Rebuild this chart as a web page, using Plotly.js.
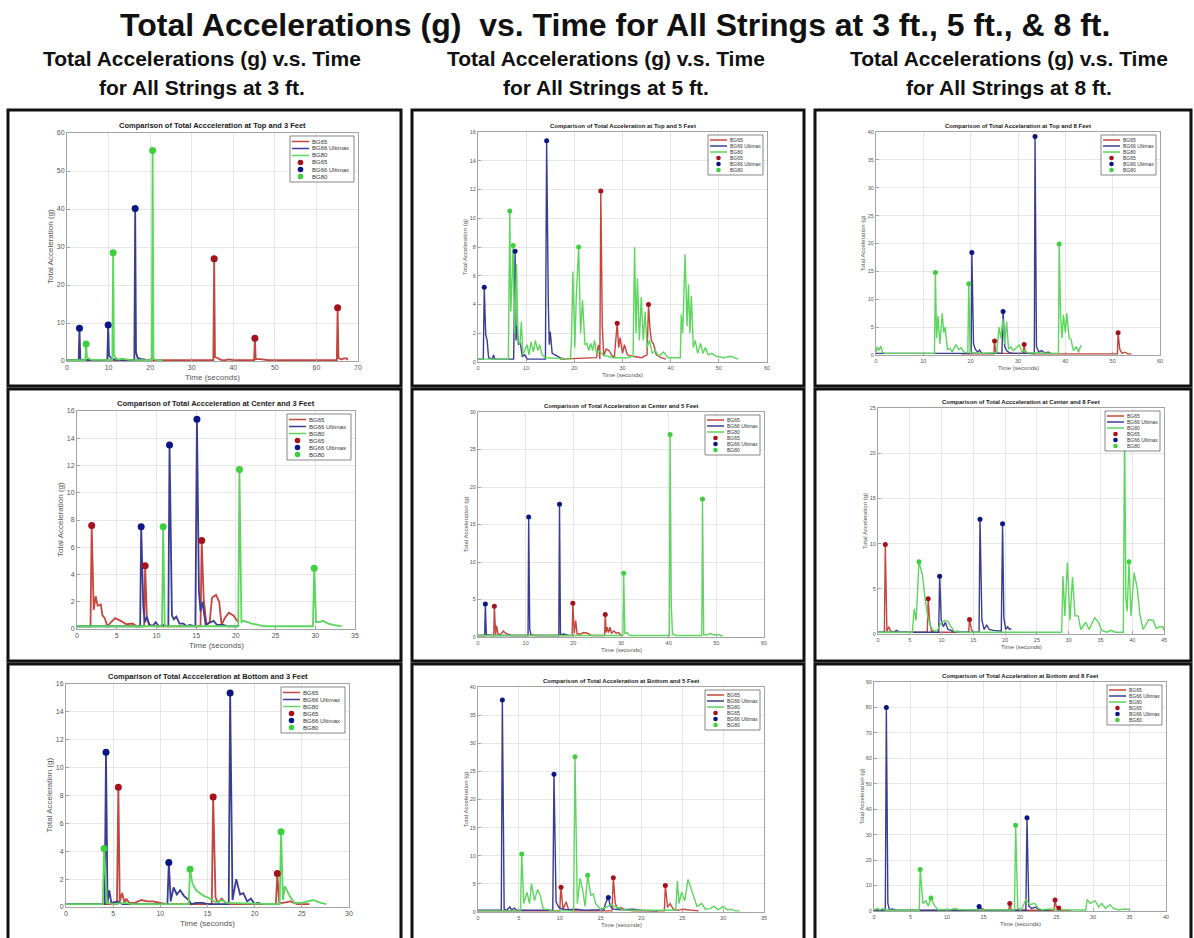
<!DOCTYPE html>
<html><head><meta charset="utf-8">
<script src="https://cdn.plot.ly/plotly-3.0.1.min.js"></script>
<style>html,body{margin:0;padding:0;background:#fff;} #chart{width:1194px;height:938px;}</style>
</head><body><div id="chart"></div>
<script>
// ---------- DATA: [time (s), total acceleration (g)] ----------
const seriesNames = ['BG65', 'BG66 Ultimax', 'BG80'];

// Top, 3 ft
const top3_BG65 = [[0,0.2],[35.2,0.2],[35.4,26.9],[35.6,1.0],[36.2,0.8],[37,0.3],[38,0.2],[39,0.4],[40,0.2],[45.0,0.2],[45.2,6.0],[45.4,0.5],[46.5,0.5],[47.5,0.3],[48.5,0.2],[64.9,0.2],[65.1,14.0],[65.3,0.8],[66,0.4],[66.6,0.7],[67.3,0.7],[67.5,0.2]];
const top3_BG66 = [[0,0.2],[2.8,0.2],[3.0,8.6],[3.2,0.4],[4,0.3],[6,0.2],[9.7,0.2],[9.9,9.5],[10.1,1.5],[10.4,1.0],[11,0.5],[12,0.3],[16.2,0.2],[16.4,40.1],[16.6,2.3],[17,0.8],[17.5,0.5],[18,0.4],[18.5,0.5],[19,0.2]];
const top3_BG80 = [[0,0.2],[4.4,0.2],[4.6,4.5],[4.8,1.0],[5.3,0.6],[6,0.3],[8,0.3],[10.9,0.2],[11.1,28.5],[11.3,1.6],[11.8,0.6],[12.5,0.4],[13.2,0.6],[14,0.5],[15,0.3],[20.4,0.2],[20.6,55.4],[20.8,0.6],[21.5,0.3],[23,0.2]];
const top3_BG65_pk = [[35.4,26.9],[45.2,6.0],[65.1,14.0]];
const top3_BG66_pk = [[3.0,8.6],[9.9,9.5],[16.4,40.1]];
const top3_BG80_pk = [[4.6,4.5],[11.1,28.5],[20.6,55.4]];

// Top, 5 ft
const top5_BG65 = [[17,0.2],[24.6,0.3],[25.0,1.2],[25.3,0.2],[25.5,11.9],[25.8,2.5],[26.1,0.4],[26.6,0.9],[27.2,0.8],[27.7,0.5],[28.3,0.3],[28.9,2.7],[29.2,1.0],[29.5,1.7],[30,0.6],[30.4,1.2],[31,0.5],[32,0.4],[34,0.3],[35.1,0.5],[35.4,4.0],[35.7,2.3],[36,1.5],[36.5,1.2],[37,0.5],[38,0.3],[39,0.2]];
const top5_BG66 = [[0,0.2],[1.1,0.2],[1.3,5.2],[1.6,1.9],[1.9,1.5],[2.2,0.3],[3.0,0.2],[3.2,0.5],[3.5,0.2],[7.4,0.2],[7.7,7.7],[7.9,1.5],[8.1,2.5],[8.4,1.2],[8.8,1.3],[9.2,0.4],[9.7,0.5],[10.2,0.2],[14.0,0.2],[14.25,15.4],[14.6,4.0],[14.8,1.2],[15.0,2.1],[15.4,0.6],[16,0.5],[17,0.3],[18,0.2]];
const top5_BG80 = [[0,0.2],[6.3,0.2],[6.6,10.5],[6.8,3.5],[7.0,5.0],[7.3,8.1],[7.6,2.0],[8.0,6.8],[8.3,1.5],[8.7,1.2],[9.0,2.8],[9.3,0.5],[9.7,0.8],[10.2,1.2],[10.6,0.5],[11.0,1.4],[11.5,0.7],[11.9,1.5],[12.4,0.8],[12.8,1.2],[13.3,0.5],[14,0.3],[19.2,0.2],[19.4,1.5],[19.7,6.3],[20.1,1.0],[20.4,4.5],[20.9,8.0],[21.3,2.0],[21.7,4.3],[22.2,1.2],[22.6,1.3],[23,0.8],[23.4,1.3],[23.8,0.8],[24.2,1.5],[24.6,0.6],[25,0.8],[26,0.5],[27,0.4],[28,0.3],[31,0.3],[32.2,0.4],[32.5,8.0],[32.8,2.0],[33.1,5.8],[33.5,1.5],[33.9,4.5],[34.3,1.5],[34.7,3.5],[35.1,1.0],[35.6,1.5],[36.2,0.6],[36.8,0.8],[37.5,0.4],[38.5,0.7],[39.5,0.3],[42,0.3],[42.2,3.3],[42.5,2.0],[43,7.5],[43.4,2.5],[43.7,5.4],[44.0,2.0],[44.3,4.6],[44.7,1.0],[45.1,1.5],[45.6,0.6],[46.2,1.3],[46.7,0.6],[47.2,1.0],[47.8,0.5],[48.5,0.6],[49.5,0.4],[51,0.3],[52.5,0.4],[54,0.2]];
const top5_BG65_pk = [[25.5,11.9],[28.9,2.7],[35.4,4.0]];
const top5_BG66_pk = [[1.3,5.2],[7.7,7.7],[14.25,15.4]];
const top5_BG80_pk = [[6.6,10.5],[7.3,8.1],[20.9,8.0]];

// Top, 8 ft
const top8_BG65 = [[18,0.2],[24.9,0.2],[25.05,2.5],[25.3,0.5],[26,0.3],[31.1,0.3],[31.3,1.9],[31.5,0.4],[33,0.2],[51,0.2],[51.15,4.0],[51.5,1.0],[52,0.3],[52.6,0.5],[53.2,0.2],[54,0.2]];
const top8_BG66 = [[0,0.3],[20.1,0.3],[20.25,18.4],[20.6,2.0],[21,1.0],[21.5,0.5],[21.9,0.9],[22.3,0.3],[26.6,0.3],[26.85,7.8],[27.2,1.5],[27.6,0.8],[28.2,0.4],[29,0.3],[33.45,0.3],[33.6,39.2],[33.9,1.5],[34.4,0.5],[35,0.8],[35.6,0.4],[36.5,0.5],[37,0.2]];
const top8_BG80 = [[0,0.5],[0.3,1.5],[0.6,0.8],[1.0,1.6],[1.4,0.4],[2,0.3],[12.35,0.3],[12.55,14.8],[12.8,3.0],[13.1,7.0],[13.5,2.0],[14.0,7.5],[14.3,4.0],[14.6,5.0],[15.1,1.0],[15.6,1.2],[16.1,0.6],[16.9,1.8],[17.5,1.0],[18.0,1.3],[18.6,0.5],[19.4,0.4],[19.6,12.8],[19.9,0.5],[21,0.4],[22,0.3],[25.5,0.4],[26,5.0],[26.4,3.0],[26.8,6.5],[27.2,2.0],[27.6,6.0],[28,1.0],[28.5,1.5],[29,0.8],[29.6,1.3],[30.3,1.8],[30.8,0.6],[31.5,0.8],[32,0.4],[38.55,0.3],[38.7,19.9],[39.0,7.0],[39.3,3.0],[39.6,7.2],[40.0,4.0],[40.3,7.5],[40.8,3.0],[41.2,2.8],[41.7,0.8],[42.3,1.5],[42.8,0.5],[43.3,1.8]];
const top8_BG65_pk = [[25.05,2.5],[31.3,1.9],[51.15,4.0]];
const top8_BG66_pk = [[20.25,18.4],[26.85,7.8],[33.6,39.2]];
const top8_BG80_pk = [[12.55,14.8],[19.6,12.8],[38.7,19.9]];

// Center, 3 ft
const center3_BG65 = [[0,0.2],[1.7,0.2],[1.85,7.6],[2.1,1.4],[2.35,2.4],[2.6,1.7],[3.0,1.8],[3.2,1.0],[3.5,0.8],[3.8,0.2],[4.3,0.5],[4.8,0.8],[5.5,0.6],[6.2,0.35],[7,0.4],[7.5,0.2],[8.45,0.2],[8.58,4.65],[8.8,0.8],[9.1,0.3],[10,0.2],[15.55,0.2],[15.7,6.5],[15.95,2.2],[16.3,0.3],[16.7,0.5],[17.0,2.3],[17.5,2.5],[17.9,2.0],[18.2,0.3],[18.6,0.8],[19.1,1.2],[19.7,1.0],[20.3,0.5]];
const center3_BG66 = [[0,0.2],[7.95,0.2],[8.08,7.5],[8.35,1.6],[8.55,0.5],[8.8,0.9],[9.1,0.3],[9.5,0.2],[9.9,0.5],[10.3,0.2],[10.8,0.3],[11.5,0.2],[11.65,13.5],[11.95,1.0],[12.2,0.7],[12.5,0.9],[12.9,0.4],[13.4,0.4],[13.8,0.2],[14.2,0.3],[14.9,0.2],[15.1,15.4],[15.35,2.8],[15.55,1.3],[15.8,2.0],[16.2,0.3],[16.8,0.5],[17.2,0.6],[17.6,0.3],[18.4,0.3],[19,0.2],[20.3,0.2]];
const center3_BG80 = [[0,0.2],[10.7,0.2],[10.85,7.5],[11.05,0.2],[20.3,0.2],[20.45,11.7],[20.7,0.5],[21,0.6],[21.5,0.5],[22,0.4],[22.8,0.3],[23.5,0.2],[29.7,0.2],[29.87,4.45],[30.1,0.5],[30.5,0.5],[31,0.6],[31.6,0.4],[32.3,0.3],[33.3,0.2]];
const center3_BG65_pk = [[1.85,7.6],[8.58,4.65],[15.7,6.5]];
const center3_BG66_pk = [[8.08,7.5],[11.65,13.5],[15.1,15.4]];
const center3_BG80_pk = [[10.85,7.5],[20.45,11.7],[29.87,4.45]];

// Center, 5 ft
const center5_BG65 = [[0,0.2],[3.3,0.2],[3.43,4.1],[3.7,0.3],[3.9,1.5],[4.2,0.4],[4.7,0.3],[5.3,0.8],[5.8,0.5],[6.4,0.3],[7,0.2],[19.75,0.2],[19.9,4.5],[20.2,0.5],[20.5,2.2],[20.8,0.4],[21.5,0.4],[22.2,0.6],[23,0.5],[23.8,0.2],[26.55,0.2],[26.7,3.0],[26.9,0.6],[27.1,1.3],[27.4,0.6],[27.7,1.3],[28,0.5],[28.5,0.8],[29,0.5],[29.5,0.6],[30,0.2]];
const center5_BG66 = [[0,0.2],[1.4,0.2],[1.54,4.4],[1.75,0.3],[3,0.2],[10.5,0.2],[10.63,16.0],[10.85,1.0],[11.1,0.3],[12,0.2],[16.95,0.2],[17.1,17.7],[17.3,0.3],[18,0.4],[19,0.2]];
const center5_BG80 = [[0,0.2],[30.4,0.2],[30.56,8.5],[30.8,0.4],[31.2,0.6],[31.8,0.2],[40.15,0.2],[40.3,27.0],[40.55,4.2],[40.8,0.4],[41.5,0.2],[46.95,0.2],[47.1,18.4],[47.35,0.3],[48.2,0.3],[48.6,0.5],[49.3,0.3],[50,0.3],[50.6,0.3],[51.3,0.1]];
const center5_BG65_pk = [[3.43,4.1],[19.9,4.5],[26.7,3.0]];
const center5_BG66_pk = [[1.54,4.4],[10.63,16.0],[17.1,17.7]];
const center5_BG80_pk = [[30.56,8.5],[40.3,27.0],[47.1,18.4]];

// Center, 8 ft
const center8_BG65 = [[0,0.2],[1.0,0.2],[1.15,9.9],[1.4,0.3],[1.7,0.8],[2,0.3],[3,0.2],[7.75,0.2],[7.9,3.9],[8.1,1.5],[8.4,0.3],[9,0.2],[14.25,0.2],[14.4,1.6],[14.7,0.5],[15,0.2]];
const center8_BG66 = [[0,0.2],[2.5,0.2],[2.9,0.4],[3.4,0.2],[9.55,0.2],[9.7,6.4],[9.95,1.5],[10.3,0.8],[10.6,1.3],[11,0.5],[11.5,0.4],[12,0.2],[12.5,0.3],[13,0.2],[15.9,0.2],[16.05,12.7],[16.35,1.5],[16.7,0.5],[17.1,1.0],[17.5,0.5],[18.2,0.4],[19.4,0.3],[19.6,12.2],[19.8,1.8],[20.1,0.5],[20.4,0.8],[20.7,0.5],[21,0.6]];
const center8_BG80 = [[0,0.2],[5.4,0.2],[5.7,2.8],[6.0,1.5],[6.45,8.0],[7.0,6.5],[7.4,4.0],[7.8,2.0],[8.2,1.0],[8.6,0.4],[9.3,0.3],[9.9,1.2],[10.5,1.5],[11.0,1.4],[11.5,0.8],[12,0.3],[13,0.2],[28.9,0.2],[29.1,6.4],[29.4,2.0],[29.8,7.9],[30.2,1.5],[30.6,6.3],[31.0,2.0],[31.5,2.0],[31.9,0.5],[32.7,1.3],[33.2,0.5],[34.1,1.8],[34.7,1.3],[35.2,0.4],[36,0.2],[36.7,0.4],[37.3,0.2],[38.6,0.2],[38.8,23.0],[39.0,4.0],[39.2,2.5],[39.5,8.0],[39.8,2.0],[40.3,6.8],[40.8,5.0],[41.2,2.2],[41.7,0.5],[42.6,1.6],[43.3,1.5],[43.8,0.6],[44.3,0.8],[44.8,0.8],[45,0.4]];
const center8_BG65_pk = [[1.15,9.9],[7.9,3.9],[14.4,1.6]];
const center8_BG66_pk = [[9.7,6.4],[16.05,12.7],[19.6,12.2]];
const center8_BG80_pk = [[6.45,8.0],[38.8,23.0],[39.5,8.0]];

// Bottom, 3 ft
const bottom3_BG65 = [[0,0.2],[5.4,0.2],[5.55,8.6],[5.7,0.4],[5.95,1.0],[6.2,0.3],[6.4,0.6],[6.7,0.3],[7.3,0.3],[8,0.5],[8.6,0.4],[9.2,0.4],[10,0.3],[10.6,0.2],[15.45,0.2],[15.6,7.9],[15.85,0.7],[16.1,0.3],[16.5,0.6],[16.9,0.3],[17.5,0.2],[22.25,0.2],[22.4,2.4],[22.6,0.3],[23,0.3],[23.8,0.4],[24.5,0.2],[25.8,0.2]];
const bottom3_BG66 = [[0,0.2],[4.1,0.2],[4.24,11.1],[4.4,0.3],[4.6,1.2],[4.8,0.3],[5.5,0.4],[6,0.2],[10.75,0.2],[10.9,3.2],[11.1,0.4],[11.4,1.4],[11.75,0.9],[12.1,1.2],[12.5,0.8],[13,0.5],[13.3,0.2],[13.8,0.3],[14.5,0.3],[15,0.2],[17.25,0.2],[17.4,15.35],[17.65,0.5],[18.05,2.0],[18.45,0.9],[18.8,1.0],[19.2,0.4],[19.6,0.6],[20,0.2],[20.3,0.3],[20.8,0.2]];
const bottom3_BG80 = [[0,0.2],[3.9,0.2],[4.03,4.2],[4.15,2.5],[4.35,0.3],[5,0.2],[6.2,0.3],[7,0.2],[13.0,0.2],[13.15,2.7],[13.4,1.7],[13.8,1.2],[14.2,1.0],[14.6,0.8],[15,0.7],[15.5,0.5],[16,0.3],[16.5,0.5],[17,0.3],[22.65,0.2],[22.8,5.4],[23.0,0.5],[23.2,1.5],[23.7,0.8],[24.2,0.3],[25,0.3],[25.6,0.4],[26.2,0.5],[27,0.3],[27.6,0.2]];
const bottom3_BG65_pk = [[5.55,8.6],[15.6,7.9],[22.4,2.4]];
const bottom3_BG66_pk = [[4.24,11.1],[10.9,3.2],[17.4,15.35]];
const bottom3_BG80_pk = [[4.03,4.2],[13.15,2.7],[22.8,5.4]];

// Bottom, 5 ft
const bottom5_BG65 = [[0,0.2],[10.0,0.2],[10.16,4.4],[10.4,0.5],[10.8,1.8],[11.1,0.3],[12,0.2],[16.4,0.2],[16.56,6.1],[16.8,1.5],[17.1,0.5],[17.5,0.8],[18,0.4],[19,0.2],[22.8,0.2],[22.93,4.7],[23.2,0.8],[23.5,1.5],[23.9,0.5],[24.5,0.3],[25,0.5],[26,0.3],[27,0.2]];
const bottom5_BG66 = [[0,0.3],[2.85,0.3],[2.98,37.7],[3.2,0.5],[3.5,0.3],[3.9,0.9],[4.1,0.4],[4.45,0.7],[4.7,0.3],[9.15,0.3],[9.3,24.5],[9.55,1.8],[9.9,0.8],[10.3,0.5],[11,0.4],[12,0.5],[13,0.3],[15.4,0.4],[15.6,1.5],[15.95,2.6],[16.2,1.0],[16.6,0.5],[17.5,0.4],[19,0.5],[20,0.3],[22,0.2]];
const bottom5_BG80 = [[0,0.2],[5.2,0.2],[5.35,10.3],[5.6,1.5],[6.0,3.5],[6.3,1.5],[6.55,5.0],[6.9,2.0],[7.3,4.0],[7.6,3.0],[8.0,0.5],[8.5,0.5],[9,0.2],[11.7,0.2],[11.87,27.6],[12.15,1.5],[12.5,6.0],[12.8,4.0],[13.1,1.0],[13.42,6.55],[13.8,3.0],[14.1,3.2],[14.4,1.5],[15,0.5],[15.6,0.8],[16.3,1.3],[17,0.8],[17.6,0.5],[18.5,0.3],[24.2,0.3],[24.4,5.5],[24.6,1.5],[24.9,3.5],[25.3,2.0],[25.7,5.8],[26.0,4.5],[26.4,2.8],[26.8,1.0],[27.4,1.5],[27.8,0.5],[28.4,0.6],[28.9,1.0],[29.4,0.4],[30,1.0],[30.5,0.4],[31,0.5],[31.5,0.2],[32,0.2]];
const bottom5_BG65_pk = [[10.16,4.4],[16.56,6.1],[22.93,4.7]];
const bottom5_BG66_pk = [[2.98,37.7],[9.3,24.5],[15.95,2.6]];
const bottom5_BG80_pk = [[5.35,10.3],[11.87,27.6],[13.42,6.55]];

// Bottom, 8 ft
const bottom8_BG65 = [[0,0.2],[18.45,0.2],[18.6,2.9],[18.8,0.5],[19.3,0.3],[24.65,0.3],[24.8,4.3],[25.05,0.5],[25.3,1.2],[25.6,0.3],[27,0.2]];
const bottom8_BG66 = [[0,0.3],[1.55,0.3],[1.69,80],[1.9,3.0],[2.1,0.5],[2.5,0.8],[3,0.3],[14.25,0.3],[14.4,1.8],[14.7,1.0],[15,0.3],[20.8,0.3],[20.96,36.6],[21.2,2.0],[21.6,1.0],[22.1,1.5],[22.7,0.5],[23.5,0.3],[24,0.2]];
const bottom8_BG80 = [[0,0.5],[0.5,1.0],[0.8,0.4],[1.2,1.0],[1.6,0.3],[2.5,0.4],[3.5,0.3],[6.2,0.3],[6.33,16.3],[6.7,3.0],[7.1,4.0],[7.45,2.0],[7.8,5.1],[8.3,2.0],[8.8,0.5],[9.5,0.6],[10.5,0.5],[11,1.0],[11.6,0.6],[12.3,0.5],[13.5,0.5],[19.25,0.4],[19.4,33.7],[19.7,1.0],[20.2,0.5],[20.8,4.5],[21.3,2.5],[22,3.0],[22.5,1.0],[23,0.5],[24,0.8],[25,0.5],[29,0.4],[29.2,4.5],[29.6,3.0],[30.3,4.0],[30.8,1.5],[31.2,3.0],[31.7,1.0],[32.3,2.5],[32.8,1.0],[33.5,0.5],[34.5,0.8],[35,0.5]];
const bottom8_BG65_pk = [[18.6,2.9],[24.8,4.3],[25.3,1.2]];
const bottom8_BG66_pk = [[1.69,80],[14.4,1.8],[20.96,36.6]];
const bottom8_BG80_pk = [[6.33,16.3],[7.8,5.1],[19.4,33.7]];

// Axis ranges / tick steps
const panelTitles = [
  'Comparison of Total Accceleration at Top and 3 Feet',
  'Comparison of Total Acceleration at Top and 5 Feet',
  'Comparison of Total Accelaration at Top and 8 Feet',
  'Comparison of Total Accceleration at Center and 3 Feet',
  'Comparison of Total Acceleration at Center and 5 Feet',
  'Comparison of Total Accceleration at Center and 8 Feet',
  'Comparison of Total Accceleration at Bottom and 3 Feet',
  'Comparison of Total Acceleration at Bottom and 5 Feet',
  'Comparison of Total Acceleration at Bottom and 8 Feet'
];
const xRanges = [[0,70],[0,60],[0,60],[0,35],[0,60],[0,45],[0,30],[0,35],[0,40]];
const xSteps  = [10,10,10,5,10,5,5,5,5];
const yRanges = [[0,60],[0,16],[0,40],[0,16],[0,30],[0,25],[0,16],[0,40],[0,90]];
const ySteps  = [10,2,5,2,5,5,2,5,10];

const panelLines = [
  [top3_BG65, top3_BG66, top3_BG80], [top5_BG65, top5_BG66, top5_BG80], [top8_BG65, top8_BG66, top8_BG80],
  [center3_BG65, center3_BG66, center3_BG80], [center5_BG65, center5_BG66, center5_BG80], [center8_BG65, center8_BG66, center8_BG80],
  [bottom3_BG65, bottom3_BG66, bottom3_BG80], [bottom5_BG65, bottom5_BG66, bottom5_BG80], [bottom8_BG65, bottom8_BG66, bottom8_BG80]
];
const panelPeaks = [
  [top3_BG65_pk, top3_BG66_pk, top3_BG80_pk], [top5_BG65_pk, top5_BG66_pk, top5_BG80_pk], [top8_BG65_pk, top8_BG66_pk, top8_BG80_pk],
  [center3_BG65_pk, center3_BG66_pk, center3_BG80_pk], [center5_BG65_pk, center5_BG66_pk, center5_BG80_pk], [center8_BG65_pk, center8_BG66_pk, center8_BG80_pk],
  [bottom3_BG65_pk, bottom3_BG66_pk, bottom3_BG80_pk], [bottom5_BG65_pk, bottom5_BG66_pk, bottom5_BG80_pk], [bottom8_BG65_pk, bottom8_BG66_pk, bottom8_BG80_pk]
];

// ---------- LAYOUT / STYLE ----------
const W = 1194, H = 938;
// plot-area pixel boxes [left, top, right, bottom]
const plotBoxes = [
  [67,133,358,361],[478,132,767,362],[876,132,1160,355],
  [77,411,355,629],[478,412,764,637],[878,408,1164,634],
  [66,684,349,907],[478,687,764,912],[874,682,1166,911]
];
const frameCols = [[8,401],[412,804],[815,1191]];
const frameRows = [[110,386],[389,661],[664,941]];
const lineColors = ['#c4463f', '#3a3d92', '#5dd65d'];
const peakColors = ['#a5121b', '#0a1686', '#3ecf3e'];
const fontFam = 'Liberation Sans, Arial, Helvetica, sans-serif';
const headFam = 'Liberation Sans, Arial, Helvetica, sans-serif';

const traces = [];
const layout = {
  width: W, height: H, margin: {l:0, r:0, t:0, b:0},
  paper_bgcolor: '#ffffff', plot_bgcolor: '#ffffff', showlegend: false,
  font: {family: fontFam, color: '#444'},
  shapes: [], annotations: []
};

const px = v => v / W;
const py = v => 1 - v / H;

for (let i = 0; i < 9; i++) {
  const k = i + 1;
  const xa = k === 1 ? 'x' : 'x' + k;
  const ya = k === 1 ? 'y' : 'y' + k;
  const big = (i % 3) === 0;
  const [L, T, R, B] = plotBoxes[i];
  const pw = R - L, ph = B - T;
  const tickSize = big ? 7 : 5.5;
  const axTitleSize = big ? 8 : 6;

  const axCommon = {
    showline: true, linecolor: '#a3a3a3', linewidth: 1, mirror: true,
    ticks: 'inside', ticklen: 3, tickcolor: '#a3a3a3', tickwidth: 1,
    showgrid: true, gridcolor: '#e6e6e6', gridwidth: 1, zeroline: false,
    tickfont: {size: tickSize, color: '#555', family: fontFam}, fixedrange: true
  };
  layout['xaxis' + (k === 1 ? '' : k)] = Object.assign({}, axCommon, {
    domain: [px(L), px(R)], range: xRanges[i], tick0: 0, dtick: xSteps[i], anchor: ya
  });
  layout['yaxis' + (k === 1 ? '' : k)] = Object.assign({}, axCommon, {
    domain: [py(B), py(T)], range: yRanges[i], tick0: 0, dtick: ySteps[i], anchor: xa
  });

  // lines
  panelLines[i].forEach((s, j) => {
    traces.push({
      type: 'scatter', mode: 'lines', name: seriesNames[j], xaxis: xa, yaxis: ya,
      x: s.map(d => d[0]), y: s.map(d => d[1]),
      line: {color: lineColors[j], width: big ? 1.8 : 1.4}, showlegend: false, hoverinfo: 'skip'
    });
  });
  // peak markers
  panelPeaks[i].forEach((s, j) => {
    traces.push({
      type: 'scatter', mode: 'markers', name: seriesNames[j], xaxis: xa, yaxis: ya,
      x: s.map(d => d[0]), y: s.map(d => d[1]),
      marker: {color: peakColors[j], size: big ? 7 : 5, line: {width: 0}}, showlegend: false, hoverinfo: 'skip'
    });
  });

  const xd = xa + ' domain', yd = ya + ' domain';
  // subplot title
  layout.annotations.push({
    xref: xd, yref: yd, x: 0.5, y: 1, yanchor: 'bottom', xanchor: 'center', yshift: 1,
    text: '<b>' + panelTitles[i] + '</b>', showarrow: false,
    font: {size: big ? 7.5 : 6, color: '#1a1a1a', family: fontFam}
  });
  // axis titles
  layout.annotations.push({
    xref: xd, yref: yd, x: 0.5, y: 0, yanchor: 'middle', xanchor: 'center', yshift: big ? -16 : -13,
    text: 'Time (seconds)', showarrow: false, font: {size: axTitleSize, color: '#555', family: fontFam}
  });
  layout.annotations.push({
    xref: xd, yref: yd, x: 0, y: 0.5, yanchor: 'middle', xanchor: 'center', xshift: big ? -17 : -13,
    text: 'Total Acceleration (g)', textangle: -90, showarrow: false,
    font: {size: axTitleSize, color: '#555', family: fontFam}
  });

  // legend box (drawn inside axes, top-right)
  const lw = big ? 64 : 55, lh = big ? 46 : 40;
  const xR = 1 - 4 / pw, xL = xR - lw / pw, yT = 1 - 3 / ph, yB = yT - lh / ph;
  layout.shapes.push({type: 'rect', xref: xd, yref: yd, x0: xL, x1: xR, y0: yB, y1: yT,
    fillcolor: '#ffffff', line: {color: '#555', width: 0.7}, layer: 'above'});
  const rowH = (lh - 4) / 6;
  for (let r = 0; r < 6; r++) {
    const yc = yT - (2 + rowH * (r + 0.5)) / ph;
    const j = r % 3;
    if (r < 3) {
      layout.shapes.push({type: 'line', xref: xd, yref: yd, x0: xL + 2 / pw, x1: xL + 19 / pw, y0: yc, y1: yc,
        line: {color: lineColors[j], width: 1.5}, layer: 'above'});
    } else {
      const cx = xL + 10.5 / pw, rr = big ? 2.8 : 2.3;
      layout.shapes.push({type: 'circle', xref: xd, yref: yd, x0: cx - rr / pw, x1: cx + rr / pw,
        y0: yc - rr / ph, y1: yc + rr / ph, fillcolor: peakColors[j], line: {width: 0}, layer: 'above'});
    }
    layout.annotations.push({
      xref: xd, yref: yd, x: xL + 21 / pw, y: yc, xanchor: 'left', yanchor: 'middle',
      text: seriesNames[j], showarrow: false, borderpad: 0,
      font: {size: big ? 6 : 5, color: '#333', family: fontFam}
    });
  }
}

// panel frames
frameRows.forEach(rw => frameCols.forEach(c => {
  layout.shapes.push({type: 'rect', xref: 'paper', yref: 'paper',
    x0: px(c[0]), x1: px(c[1]), y0: py(rw[1]), y1: py(rw[0]),
    line: {color: '#111', width: 3}, fillcolor: 'rgba(0,0,0,0)', layer: 'below'});
}));

// headings
layout.annotations.push({
  xref: 'paper', yref: 'paper', x: px(615), y: py(25), xanchor: 'center', yanchor: 'middle',
  text: 'Total Accelerations (g)  vs. Time for All Strings at 3 ft., 5 ft., & 8 ft.', showarrow: false,
  font: {size: 32, color: '#111', family: headFam, weight: 700}
});
const colCenters = [202, 606, 1009];
const feet = ['3', '5', '8'];
colCenters.forEach((cx, c) => {
  layout.annotations.push({
    xref: 'paper', yref: 'paper', x: px(cx), y: py(58), xanchor: 'center', yanchor: 'middle',
    text: 'Total Accelerations (g) v.s. Time', showarrow: false,
    font: {size: 21, color: '#111', family: headFam, weight: 700}
  });
  layout.annotations.push({
    xref: 'paper', yref: 'paper', x: px(cx), y: py(87), xanchor: 'center', yanchor: 'middle',
    text: 'for All Strings at ' + feet[c] + ' ft.', showarrow: false,
    font: {size: 21, color: '#111', family: headFam, weight: 700}
  });
});

Plotly.newPlot('chart', traces, layout, {staticPlot: true, displayModeBar: false});
</script></body></html>
